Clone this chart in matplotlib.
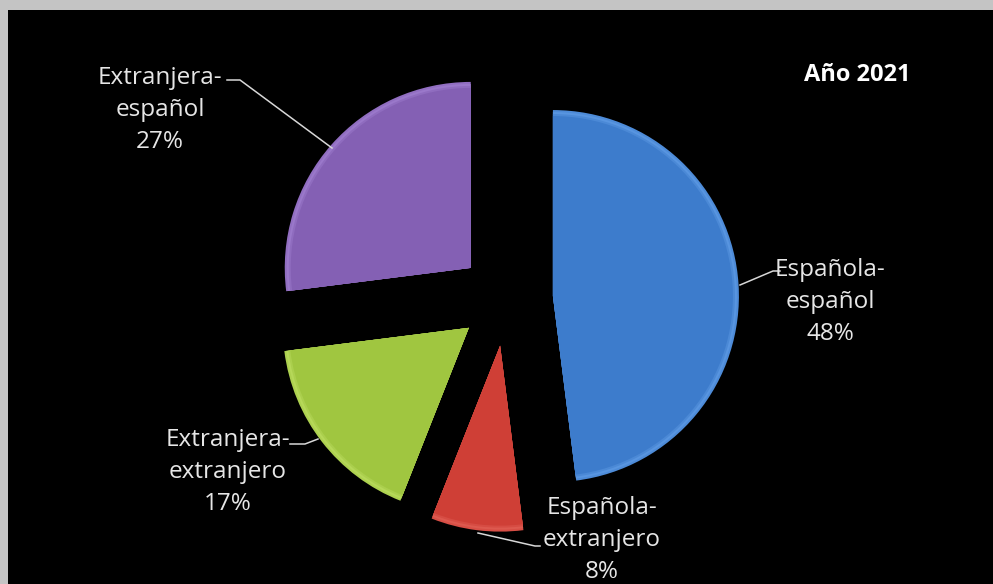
import matplotlib.pyplot as plt
from matplotlib.patches import Rectangle
from matplotlib.colors import to_rgb

# data
categories = ["Española-\nespañol", "Española-\nextranjero",
              "Extranjera-\nextranjero", "Extranjera-\nespañol"]
shares = [48, 8, 17, 27]
colors = ["#3d7ccc", "#cf3f36", "#a0c640", "#8460b4"]
rim_colors = ["#6aa6ee", "#e76a60", "#c4e46a", "#a888d8"]
title = "Año 2021"

W, H = 993, 584
fig = plt.figure(figsize=(W / 100, H / 100), dpi=100, facecolor="#c4c4c4")
ax = fig.add_axes([0, 0, 1, 1])

# black chart area (pixel coords, y from the top)
ax.add_patch(Rectangle((8, 0), W - 8, H - 10, facecolor="black", edgecolor="none", zorder=0))

cx, cy = 506, H - 299
r = 186
expl = [47] * len(shares)


def mix(a, b, t):
    a, b = to_rgb(a), to_rgb(b)
    return tuple(x * (1 - t) + y * t for x, y in zip(a, b))


# soft bevel: a few stacked pies, rim lighter towards the inside edge
layers = [(0, 0.35), (2, 0.6), (4, 0.3), (6, 0.0)]
for dr, t in layers:
    ax.pie(shares, colors=[mix(c, rc, t) for c, rc in zip(colors, rim_colors)],
           radius=r - dr, center=(cx, cy), explode=expl,
           startangle=90, counterclock=False, wedgeprops=dict(linewidth=0))

ax.set_xlim(0, W)
ax.set_ylim(0, H)
ax.set_aspect("auto")
ax.axis("off")

fnt = dict(family=["Open Sans", "DejaVu Sans"], fontsize=17.5, color="#e6e6e6",
           ha="center", va="center", linespacing=1.42)

labels = [f"{c}\n{v}%" for c, v in zip(categories, shares)]
label_pos = [(830, 302), (602, 540), (228, 472), (160, 110)]
leaders = [
    [(740, 285), (773, 271), (780, 271)],
    [(478, 533), (535, 546), (540, 546)],
    [(290, 444), (305, 444), (318, 439)],
    [(227, 80), (240, 80), (332, 148)],
]
for txt, (lx, ly), pts in zip(labels, label_pos, leaders):
    ax.text(lx, H - ly, txt, **fnt)
    xs = [p[0] for p in pts]
    ys = [H - p[1] for p in pts]
    ax.plot(xs, ys, color="#d8d8d8", lw=1.1)

ax.text(857, H - 75, title, family=["Open Sans", "DejaVu Sans"], fontsize=17,
        fontweight="bold", color="white", ha="center", va="center")

fig.savefig("out.png", dpi=100, facecolor=fig.get_facecolor())
